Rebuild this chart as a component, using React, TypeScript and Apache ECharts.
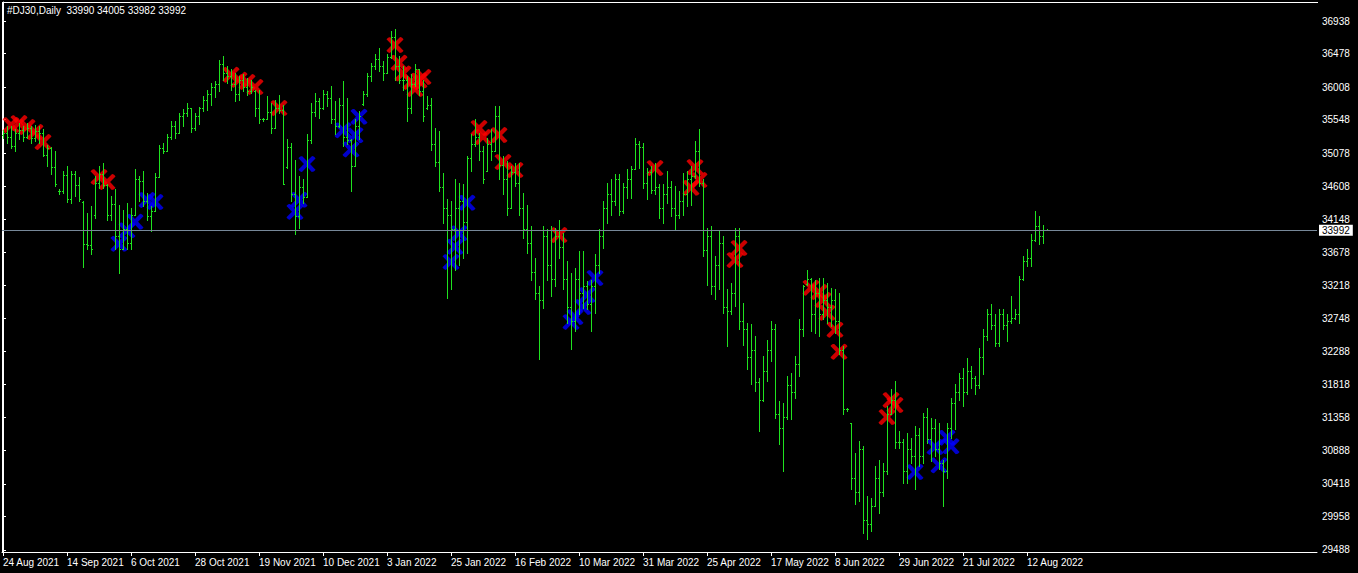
import React, { useEffect, useRef } from "react";
import * as echarts from "echarts";

const FONT = '"Liberation Sans", Arial, sans-serif';

const titleText = "#DJ30,Daily  33990 34005 33982 33992";
const bidPrice = 33992;

const dateLabels = [
  "24 Aug 2021", "14 Sep 2021", "6 Oct 2021", "28 Oct 2021", "19 Nov 2021", "10 Dec 2021",
  "3 Jan 2022", "25 Jan 2022", "16 Feb 2022", "10 Mar 2022", "31 Mar 2022", "25 Apr 2022",
  "17 May 2022", "8 Jun 2022", "29 Jun 2022", "21 Jul 2022", "12 Aug 2022",
];
const barsPerLabel = 16;

const yTicks = [
  29488, 29958, 30418, 30888, 31358, 31818, 32288, 32748, 33218, 33678, 34148, 34608,
  35078, 35548, 36008, 36478, 36938,
];

const opens = [
  35330,35350,35300,35165,35350,35400,35300,35420,35280,35380,
  35350,35050,35140,34880,34540,34530,34760,34420,34780,34620,
  34380,33790,33780,34200,34650,34780,34620,34200,34350,33900,
  33720,34000,33800,34200,34700,34680,34400,34180,34250,34740,
  35140,35100,35300,35450,35350,35600,35640,35700,35420,35600,
  35700,35820,35900,36000,36050,36330,36200,36150,36050,35900,
  36100,36000,35950,35950,35700,35550,35545,35650,35420,35700,
  35680,34880,35150,34500,34180,34600,34450,35250,35650,35800,
  35700,35900,35850,35550,35450,35750,35300,35250,34890,35450,
  35760,35900,36150,36300,36400,36300,36200,36420,36700,36300,
  36100,36100,35700,36050,36250,35950,35700,35750,35200,34950,
  34600,34300,34200,34000,34300,34400,34100,35000,35200,35300,
  35100,34820,35200,35100,35600,34900,34700,34300,34800,34650,
  34300,34000,33800,33400,33100,33000,33900,33500,33300,33900,
  33750,33300,32900,32700,33300,33100,33200,32950,33200,33500,
  33900,34300,34500,34400,34700,34250,34600,34700,34850,35200,
  35150,34650,34800,34550,34600,34300,34500,34600,34300,34200,
  34400,34500,34700,34750,35100,34650,33700,33900,33200,33500,
  33800,32900,32850,33100,33900,32700,32600,32200,32300,31850,
  31600,32000,32300,32600,31400,31200,31350,31800,31700,32100,
  32600,33230,33300,32800,33100,32800,33000,32900,33000,32700,
  32300,31460,31270,30500,30300,30900,29900,29850,30100,30500,
  30300,30600,31400,31600,31000,31000,30600,30900,30800,31100,
  30800,31350,31050,31200,30900,30700,30600,31200,31550,31700,
  31900,31700,32000,31900,31800,32200,32500,32800,32650,32400,
  32800,32650,32700,32750,32800,33300,33550,33600,33850,34050,
  33900,33990,
];

const highs = [
  35400,35450,35450,35405,35495,35450,35495,35450,35470,35450,
  35405,35190,35160,35100,34560,34815,34885,34815,34815,34730,
  34395,34230,34325,34745,34885,34935,34640,34465,34560,34345,
  34275,34370,34300,34840,34745,34815,34510,34325,34795,35180,
  35215,35335,35520,35520,35640,35685,35770,35700,35640,35720,
  35875,35965,36060,36085,36380,36445,36295,36250,36200,36155,
  36180,36130,36105,35965,35965,35570,35880,35780,35825,35895,
  35755,35265,35215,34980,34745,34700,35335,35780,35920,35850,
  35965,35945,36015,35800,35850,36085,35850,35265,35545,35660,
  35945,36200,36340,36460,36555,36365,36460,36790,36820,36435,
  36295,36155,36180,36320,36250,36105,35875,35850,35425,35380,
  34795,34420,34395,34700,34650,34630,35030,35335,35545,35355,
  35170,35285,35405,35730,35740,35030,34955,34885,34935,34935,
  34510,34345,34040,33600,33200,34040,33995,34040,34020,34135,
  33950,33550,33385,33455,33690,33690,33270,33290,33645,33995,
  34395,34650,34700,34770,34770,34650,34840,34885,35285,35240,
  35215,34865,34885,34935,34630,34630,34815,34675,34605,34535,
  34795,34815,34885,35240,35405,34700,34020,34040,33620,33970,
  33900,33150,33245,34020,34020,32965,32680,32660,32495,31905,
  32210,32445,32705,32660,31580,31555,31930,31980,32210,32730,
  33220,33430,33315,33290,33315,33315,33245,33175,33150,33105,
  32355,31480,31275,30850,31015,30945,30240,30215,30665,30755,
  30710,31510,31745,31860,31155,31040,31135,31065,31225,31205,
  31415,31485,31345,31320,31275,30755,31275,31625,31815,31980,
  32050,32190,32070,31930,32330,32590,32870,32940,32800,32870,
  32870,32800,33055,32870,33340,33620,33715,33925,34255,34185,
  34065,34005,
];

const lows = [
  35285,35215,35145,35100,35265,35240,35290,35215,35240,35215,
  35030,34885,34770,34605,34500,34510,34380,34370,34465,34390,
  33470,33715,33645,34150,34580,34580,34135,34135,33715,33385,
  33715,33715,33715,34200,34395,34325,34135,33970,34250,34740,
  35075,35100,35265,35285,35350,35450,35590,35365,35400,35475,
  35660,35675,35755,35865,35945,36105,36060,35965,35800,35825,
  35945,35895,35920,35590,35500,35520,35545,35355,35420,35640,
  34630,34865,34395,33925,34020,34370,34450,35215,35590,35570,
  35685,35730,35495,35335,35445,35170,35200,34535,34890,35265,
  35755,35875,36085,36250,36225,36105,36200,36410,36105,36060,
  35965,35520,35640,36015,35895,35520,35685,35120,34885,34535,
  34090,33035,33150,33430,33500,33600,33665,34815,35170,34980,
  34650,34815,34980,35100,34700,34490,34205,34300,34605,34205,
  33880,33665,33290,33010,32165,32895,33290,33055,33200,33600,
  33150,32680,32305,32565,32800,32895,32870,32565,32820,33385,
  33740,34090,34205,34345,34205,34230,34440,34440,34840,34865,
  34580,34420,34510,34490,34160,34090,34370,34185,33995,34160,
  34205,34325,34345,34720,34605,33620,33220,33080,33010,33150,
  32820,32355,32800,32915,32590,32375,32025,31815,31720,31155,
  31580,31860,32140,31345,30970,30595,31320,31320,31625,31930,
  32495,33220,32565,32540,32495,32730,32680,32635,32540,32235,
  31390,31440,30335,30125,30170,29725,29630,29750,30100,30005,
  30240,30545,31390,30920,30920,30430,30430,30710,30335,30665,
  30710,30990,30735,30805,30615,30100,30500,31060,31180,31600,
  31510,31675,31765,31675,31765,31955,32445,32590,32355,32355,
  32590,32425,32680,32730,32680,33290,33480,33480,33830,33785,
  33810,33982,
];

const closes = [
  35350,35300,35165,35350,35400,35300,35420,35280,35380,35350,
  35050,35140,34880,34640,34530,34760,34420,34780,34620,34420,
  33790,33780,33720,34650,34780,34620,34200,34350,33900,33720,
  34000,33800,34200,34700,34680,34400,34180,34250,34740,35140,
  35100,35300,35450,35350,35600,35640,35700,35420,35600,35700,
  35820,35900,36000,36050,36330,36200,36150,36050,35900,36100,
  36000,35950,36000,35700,35550,35545,35650,35420,35700,35680,
  34630,35150,34500,34180,34600,34450,35250,35650,35800,35700,
  35900,35850,35550,35450,35750,35300,35250,34890,35450,35600,
  35900,36150,36300,36400,36300,36200,36420,36700,36300,36100,
  36100,35700,36050,36250,35950,35600,35750,35200,34950,34600,
  34300,34200,34000,34300,34400,34100,35000,35200,35300,35100,
  34700,35200,35100,35600,34900,34700,34300,34800,34650,34300,
  34000,33800,33400,33100,33000,33900,33500,33300,33900,33750,
  33300,32900,32700,33300,33100,33200,32950,33200,33500,33900,
  34300,34500,34400,34700,34250,34600,34700,34850,35200,35150,
  34650,34800,34550,34600,34300,34500,34600,34300,34200,34400,
  34500,34700,34750,35100,34650,33700,33900,33200,33500,33800,
  32900,32850,33100,33900,32700,32600,32200,32300,31850,31600,
  32000,32300,32600,31400,31200,31350,31800,31700,32100,32600,
  33200,33300,32800,33100,32800,33000,32900,33000,32700,32300,
  31460,31470,30500,30300,30900,29900,29850,30100,30500,30300,
  30600,31400,31600,31000,31000,30600,30900,30800,31100,30800,
  31350,31050,31200,30900,30700,30600,31200,31550,31700,31900,
  31700,32000,31900,31800,32200,32500,32800,32650,32400,32800,
  32650,32700,32750,32800,33300,33550,33600,33850,34050,33900,
  33990,33992,
];

// signal markers: [bar index, price]
const redSignals = [
  [2, 35474], [4, 35500], [6, 35446], [8, 35375], [10, 35234],
  [24, 34742], [26, 34671],
  [57, 36180], [59, 36110], [61, 36080], [63, 36010],
  [69, 35713],
  [98, 36600], [99, 36350], [100, 36200], [102, 36080], [103, 35980], [104, 36100], [105, 36150],
  [119, 35432], [120, 35305], [124, 35333], [125, 34953], [128, 34840],
  [139, 33925],
  [163, 34868], [172, 34590], [173, 34880], [174, 34700],
  [183, 33573], [184, 33742],
  [202, 33180], [204, 33120], [205, 33010], [206, 32830], [208, 32590], [209, 32280],
  [221, 31360], [222, 31600], [223, 31530],
];

const blueSignals = [
  [29, 33800], [31, 33990], [33, 34110],
  [36, 34418], [38, 34390],
  [73, 34250], [74, 34420], [76, 34925],
  [85, 35400], [87, 35130], [88, 35330], [89, 35590],
  [112, 33545], [113, 33760], [114, 33950], [116, 34380],
  [142, 32700], [143, 32770], [145, 32910], [146, 33080], [148, 33320],
  [228, 30588], [233, 30940], [234, 30680], [236, 31070], [237, 30950],
];

const X_PATH =
  "path://M0 14C8 4 14 0 22 2L50 32L80 0C88 0 96 6 100 16L68 50L100 86C94 96 86 100 78 100L50 68L20 100C12 98 4 92 0 84L32 50Z";

const App: React.FC = () => {
  const ref = useRef<HTMLDivElement>(null);

  useEffect(() => {
    document.body.style.margin = "0";
    document.body.style.background = "#000";
    if (!ref.current) return;
    const chart = echarts.init(ref.current, null, { renderer: "svg" });

    const ohlcData = opens.map((o, i) => [i, o, highs[i], lows[i], closes[i]]);
    const labelIdx = dateLabels.map((_, k) => k * barsPerLabel);
    const barColor = "#1FE21F";

    chart.setOption({
      animation: false,
      backgroundColor: "#000",
      grid: { left: 2, top: 2, width: 1315, height: 550, containLabel: false, show: false },
      xAxis: {
        type: "value",
        min: -0.25,
        max: 328.5,
        axisLine: { show: true, lineStyle: { color: "#fff", width: 1 } },
        axisTick: { show: true, customValues: labelIdx, length: 4, lineStyle: { color: "#fff" } },
        axisLabel: {
          customValues: labelIdx,
          formatter: (v: number) => dateLabels[Math.round(v / barsPerLabel)] ?? "",
          color: "#fff",
          fontSize: 10,
          fontFamily: FONT,
          align: "left",
          margin: 5,
        },
        splitLine: { show: false },
      },
      yAxis: {
        type: "value",
        position: "right",
        min: 29459.8,
        max: 37205.6,
        axisLine: { show: true, lineStyle: { color: "#fff", width: 1 } },
        axisTick: { show: true, customValues: yTicks, length: 3, lineStyle: { color: "#fff" } },
        axisLabel: {
          customValues: yTicks,
          formatter: (v: number) => String(Math.round(v)),
          color: "#fff",
          fontSize: 10,
          fontFamily: FONT,
          margin: 5,
        },
        splitLine: { show: false },
      },
      graphic: [
        { type: "rect", silent: true, shape: { x: 2, y: 2, width: 1, height: 551 }, style: { fill: "#fff" } },
        { type: "rect", silent: true, shape: { x: 2, y: 2, width: 1316, height: 1 }, style: { fill: "#fff" } },
        {
          type: "text",
          left: 7,
          top: 5,
          silent: true,
          style: { text: titleText, fill: "#fff", fontSize: 10, fontFamily: FONT },
        },
      ],
      series: [
        {
          type: "scatter",
          silent: true,
          z: 1,
          data: redSignals,
          symbol: X_PATH,
          symbolSize: [17, 16],
          itemStyle: { color: "#FF0000" },
          markLine: {
            silent: true,
            symbol: ["none", "none"],
            data: [{ yAxis: bidPrice }],
            lineStyle: { color: "#778899", width: 1, type: "solid" },
            label: {
              show: true,
              position: "end",
              formatter: String(bidPrice),
              backgroundColor: "#fff",
              color: "#000",
              padding: [1, 3, 0, 3],
              distance: 2,
              fontSize: 10,
              fontFamily: FONT,
            },
          },
        },
        {
          type: "scatter",
          silent: true,
          z: 1,
          data: blueSignals,
          symbol: X_PATH,
          symbolSize: [17, 16],
          itemStyle: { color: "#0000FF" },
        },
        {
          type: "custom",
          silent: true,
          z: 3,
          data: ohlcData,
          encode: { x: 0, y: [1, 2, 3, 4] },
          renderItem: (params: any, api: any) => {
            const i = api.value(0);
            const pO = api.coord([i, api.value(1)]);
            const pH = api.coord([i, api.value(2)]);
            const pL = api.coord([i, api.value(3)]);
            const pC = api.coord([i, api.value(4)]);
            const c = Math.floor(pO[0] + 0.01);
            const yH = Math.floor(pH[1]);
            const yL = Math.floor(pL[1]);
            const yO = Math.floor(pO[1]);
            const yC = Math.floor(pC[1]);
            const style = { fill: barColor };
            return {
              type: "group",
              children: [
                { type: "rect", shape: { x: c, y: yH, width: 1, height: Math.max(1, yL - yH + 1) }, style },
                { type: "rect", shape: { x: c - 1, y: yO, width: 1, height: 1 }, style },
                { type: "rect", shape: { x: c + 1, y: yC, width: 1, height: 1 }, style },
              ],
            };
          },
        },
      ],
    });

    return () => chart.dispose();
  }, []);

  return (
    <div
      ref={ref}
      style={{ position: "absolute", left: 0, top: 0, width: 1358, height: 573, background: "#000" }}
    />
  );
};

export default App;
